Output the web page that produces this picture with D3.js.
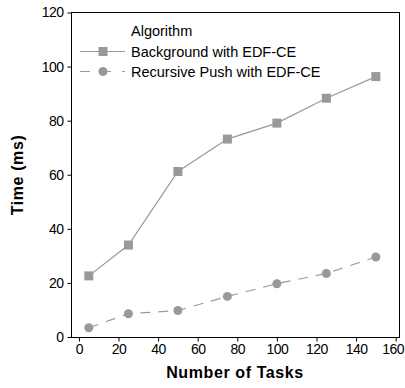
<!DOCTYPE html>
<html>
<head>
<meta charset="utf-8">
<script src="https://cdn.jsdelivr.net/npm/d3@7"></script>
<style>
  body { margin: 0; background: #fff; }
  text { font-family: "Liberation Sans", Arial, sans-serif; }
</style>
</head>
<body>
<div id="chart"></div>
<script>
// data
var tasks = [5, 25, 50, 75, 100, 125, 150];
var background = [22.6, 34, 61.2, 73.2, 79.1, 88.3, 96.3];
var recursive = [3.4, 8.6, 9.8, 15, 19.7, 23.5, 29.6];
var xTicks = [0, 20, 40, 60, 80, 100, 120, 140, 160];
var yTicks = [0, 20, 40, 60, 80, 100, 120];
var seriesNames = ["Background with EDF-CE", "Recursive Push with EDF-CE"];

var W = 405, H = 388;
var plotL = 71, plotR = 400, plotT = 12, plotB = 337;

var svg = d3.select('#chart').append('svg')
  .attr('width', W).attr('height', H);

var x = d3.scaleLinear().domain([-4, 162.2]).range([plotL, plotR]);
var y = d3.scaleLinear().domain([0, 120]).range([plotB, plotT + 0.5]);

// frame
svg.append('rect')
  .attr('x', plotL + 0.5).attr('y', plotT + 0.5)
  .attr('width', plotR - plotL - 1).attr('height', plotB - plotT)
  .attr('fill', 'none').attr('stroke', '#000').attr('stroke-width', 1);

// axes
var xAxis = svg.append('g')
  .attr('transform', 'translate(0,' + (plotB + 0.5) + ')')
  .call(d3.axisBottom(x).tickValues(xTicks).tickSize(4).tickPadding(3));
var yAxis = svg.append('g')
  .attr('transform', 'translate(' + (plotL + 0.5) + ',0)')
  .call(d3.axisLeft(y).tickValues(yTicks).tickSize(4).tickPadding(4));

[xAxis, yAxis].forEach(function(a){
  a.select('.domain').remove();
  a.selectAll('text').attr('font-size', 14).attr('fill', '#000')
    .attr('letter-spacing', '-0.5')
    .style('font-family', '"Liberation Sans", Arial, sans-serif');
  a.selectAll('line').attr('stroke', '#000');
});
// last x label is pulled in so it fits the page
xAxis.selectAll('text').filter(function(d){ return d === 160; })
  .attr('text-anchor', 'end').attr('x', 8);

// axis titles
svg.append('text')
  .attr('x', 235).attr('y', 378)
  .attr('text-anchor', 'middle')
  .attr('font-size', 16).attr('font-weight', 'bold')
  .attr('letter-spacing', '0.6')
  .text('Number of Tasks');
svg.append('text')
  .attr('transform', 'translate(23,175) rotate(-90)')
  .attr('text-anchor', 'middle')
  .attr('font-size', 16).attr('font-weight', 'bold')
  .attr('letter-spacing', '0.6')
  .text('Time (ms)');

var grey = '#999';
var line = d3.line()
  .x(function(d){ return x(d[0]); })
  .y(function(d){ return y(d[1]); });

var bgData = tasks.map(function(t, i){ return [t, background[i]]; });
var reData = tasks.map(function(t, i){ return [t, recursive[i]]; });

svg.append('path').datum(bgData)
  .attr('d', line).attr('fill', 'none')
  .attr('stroke', grey).attr('stroke-width', 1.2);
svg.append('path').datum(reData)
  .attr('d', line).attr('fill', 'none')
  .attr('stroke', grey).attr('stroke-width', 1.2)
  .attr('stroke-dasharray', '10,8');

svg.selectAll('rect.bg').data(bgData).enter().append('rect')
  .attr('class', 'bg')
  .attr('x', function(d){ return x(d[0]) - 4.5; })
  .attr('y', function(d){ return y(d[1]) - 4.5; })
  .attr('width', 9).attr('height', 9)
  .attr('fill', grey);
svg.selectAll('circle.re').data(reData).enter().append('circle')
  .attr('class', 're')
  .attr('cx', function(d){ return x(d[0]); })
  .attr('cy', function(d){ return y(d[1]); })
  .attr('r', 4.5)
  .attr('fill', grey);

// legend
var legend = svg.append('g');
legend.append('text')
  .attr('x', 131).attr('y', 36)
  .attr('font-size', 14.5).text('Algorithm');

var rows = [{y: 51.5, shape: 'square'}, {y: 71.5, shape: 'circle'}];
rows.forEach(function(r, i){
  legend.append('line')
    .attr('x1', 80).attr('x2', 125).attr('y1', r.y).attr('y2', r.y)
    .attr('stroke', grey).attr('stroke-width', 1.2)
    .attr('stroke-dasharray', i === 1 ? '10,11' : null);
  if (r.shape === 'square') {
    legend.append('rect').attr('x', 98.5).attr('y', r.y - 4.5)
      .attr('width', 9).attr('height', 9).attr('fill', grey);
  } else {
    legend.append('circle').attr('cx', 103).attr('cy', r.y).attr('r', 4.5).attr('fill', grey);
  }
  legend.append('text')
    .attr('x', 131).attr('y', r.y + 5)
    .attr('font-size', 14.5).text(seriesNames[i]);
});
</script>
</body>
</html>
